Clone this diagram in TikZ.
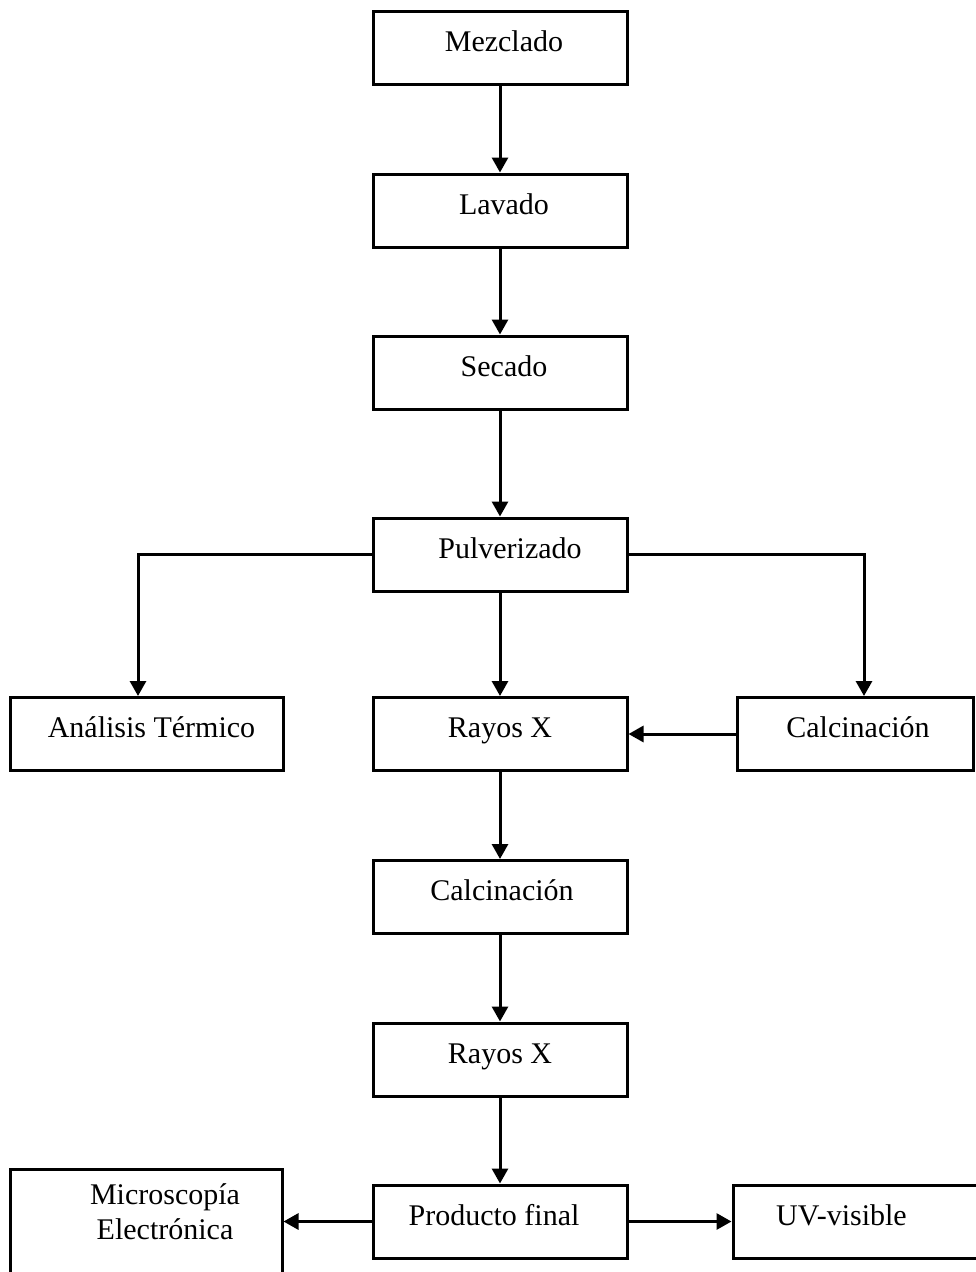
\documentclass[tikz,border=0pt]{standalone}
\usepackage{fontspec}
\setmainfont{Liberation Serif}
\usetikzlibrary{arrows.meta}
\begin{document}
\begin{tikzpicture}[x=1pt,y=-1pt,
  every node/.style={font=\fontsize{30}{35}\selectfont},
  box/.style={draw, line width=3pt, minimum width=254pt, minimum height=73pt, inner sep=0pt, text height=20pt, text depth=13pt},
  txt/.style={inner sep=0pt, align=center},
  flow/.style={line width=3pt, -{Triangle[length=15pt,width=16pt]}},
  link/.style={line width=3pt}]
\useasboundingbox (0,0) rectangle (975,1272);
\fill[white] (0,0) rectangle (975,1272);
\node[box] (mez) at (500,47.5) {\hspace*{8pt}Mezclado};
\node[box] (lav) at (500,210.5) {\hspace*{8pt}Lavado};
\node[box] (sec) at (500,372.5) {\hspace*{8pt}Secado};
\node[box] (pul) at (500,554.5) {\hspace*{20pt}Pulverizado};
\node[box, minimum width=273pt] (ter) at (146.5,734) {\hspace*{10pt}Análisis Térmico};
\node[box] (rx1) at (500,734) {Rayos X};
\node[box, minimum width=236pt] (cal1) at (855,734) {\hspace*{6pt}Calcinación};
\node[box] (cal2) at (500,897) {\hspace*{4pt}Calcinación};
\node[box] (rx2) at (500,1059.5) {Rayos X};
\node[box] (pro) at (500,1221.5) {Producto final\hspace*{12pt}};
\node[box, minimum width=247pt] (uv) at (856.5,1221.5) {UV-visible\hspace*{30pt}};
\node[box, minimum width=272pt, minimum height=115pt, anchor=north] (mic) at (146,1168) {};
\node[txt] (mict) at (165,1212) {Microscopía\\Electrónica};
\draw[flow] (mez) -- (lav);
\draw[flow] (lav) -- (sec);
\draw[flow] (sec) -- (pul);
\draw[flow] (pul) -- (rx1);
\draw[flow] (pul.west) -| (ter.north -| 138,0);
\draw[flow] (pul.east) -| (cal1.north -| 864,0);
\draw[flow] (cal1) -- (rx1);
\draw[flow] (rx1) -- (cal2);
\draw[flow] (cal2) -- (rx2);
\draw[flow] (rx2) -- (pro);
\draw[flow] (pro.west) -- (pro.west -| mic.east);
\draw[flow] (pro) -- (uv);
\end{tikzpicture}
\end{document}
